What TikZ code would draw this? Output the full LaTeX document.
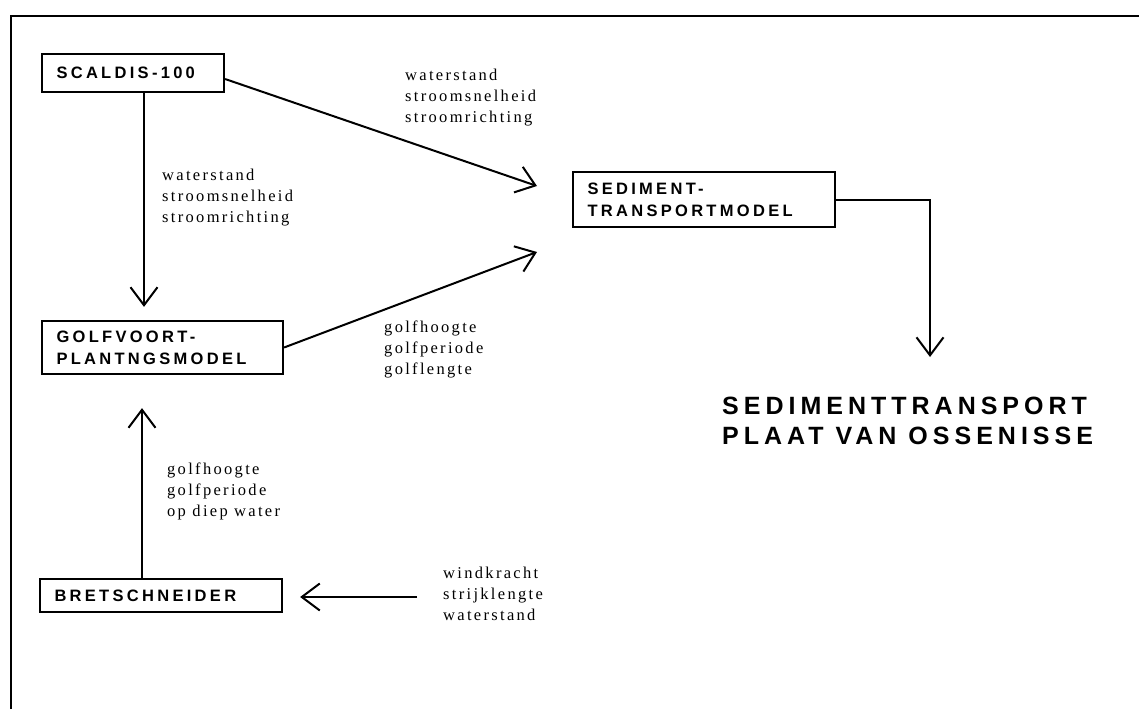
\documentclass[tikz,border=0pt]{standalone}
\usepackage{fontspec}
\setmainfont{Liberation Serif}
\newfontfamily\boxfont{Liberation Sans}[LetterSpace=20]
\newfontfamily\titlefont{Liberation Sans}[LetterSpace=20]
\newfontfamily\labfont{Liberation Serif}[LetterSpace=14]
\usetikzlibrary{arrows.meta}
\tikzset{
  box/.style={draw, line width=2.2pt, rectangle, inner xsep=14.5pt, inner ysep=0pt,
    align=left, font=\boxfont\bfseries\fontsize{16.5}{22}\selectfont},
  lab/.style={anchor=north west, inner sep=0pt, align=left,
    font=\labfont\fontsize{16.5}{21.2}\selectfont},
  arr/.style={draw, line width=2pt, line join=miter,
    -{Straight Barb[length=18pt,width=27pt,line width=2pt]}},
  frame/.style={draw, line width=1.4pt}
}
\begin{document}
\begin{tikzpicture}[x=1pt,y=-1pt]
\useasboundingbox (0,0) rectangle (1139,709);
\draw[frame] (11,709) -- (11,16) -- (1139,16);

\node[box, minimum width=182pt, minimum height=38pt, text width=153pt] (sc) at (133,73) {SCALDIS-100};
\node[box, minimum width=241pt, minimum height=53pt, text width=212pt] (gv) at (162.5,347.5) {GOLFVOORT-\\PLANTNGSMODEL};
\node[box, minimum width=262pt, minimum height=55pt, text width=233pt] (sd) at (704,199.5) {SEDIMENT-\\TRANSPORTMODEL};
\node[box, minimum width=242pt, minimum height=33pt, text width=213pt] (br) at (161,595.5) {BRETSCHNEIDER};

\node[anchor=north west, inner sep=0pt, align=left,
  font=\titlefont\bfseries\fontsize{25}{30}\selectfont] (title) at (722,397) {SEDIMENTTRANSPORT\\PLAAT VAN OSSENISSE};

\node[lab] (l1) at (162,168.5) {waterstand\\stroomsnelheid\\stroomrichting};
\node[lab] (l2) at (405,68.5) {waterstand\\stroomsnelheid\\stroomrichting};
\node[lab] (l3) at (384,320.5) {golfhoogte\\golfperiode\\golflengte};
\node[lab] (l4) at (167,462.5) {golfhoogte\\golfperiode\\op diep water};
\node[lab] (l5) at (443,566.5) {windkracht\\strijklengte\\waterstand};

\coordinate (t1) at (537,186);
\coordinate (t2) at (537,252);
\coordinate (t3) at (930,357);
\coordinate (t4) at (417,597);

\draw[arr, shorten >=13pt] ([xshift=11pt]sc.south) -- ([xshift=11pt]sc.south |- gv.north);
\draw[arr] ([yshift=-6pt]sc.east) -- (t1);
\draw[arr] (gv.east) -- (t2);
\draw[arr] (sd.east) -| (t3);
\draw[arr, shorten >=33pt] ([xshift=-19pt]br.north) -- ([xshift=-19pt]br.north |- gv.south);
\draw[arr, shorten >=17pt] (t4) -- (br.east |- t4);
\end{tikzpicture}
\end{document}
